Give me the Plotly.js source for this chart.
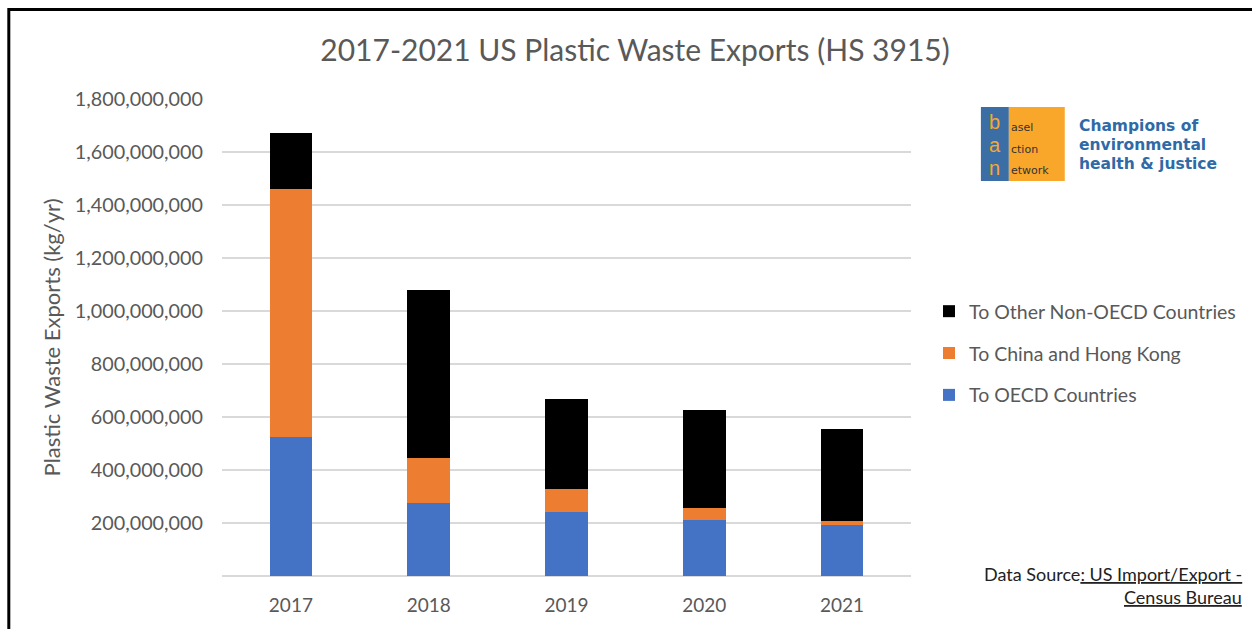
<!DOCTYPE html>
<html>
<head>
<meta charset="utf-8">
<script src="https://cdn.plot.ly/plotly-3.0.1.min.js"></script>
<style>html,body{margin:0;padding:0;background:#fff;}#chart{width:1252px;height:629px;}</style>
</head>
<body>
<div id="chart"></div>
<script>
// ---- data ----
const years = ["2017", "2018", "2019", "2020", "2021"];
const toOECD = [526e6, 274e6, 241e6, 212e6, 194e6];
const toChinaHK = [934e6, 171e6, 87e6, 44e6, 13e6];
const toOtherNonOECD = [212e6, 633e6, 340e6, 371e6, 348e6];
const seriesNames = ["To OECD Countries", "To China and Hong Kong", "To Other Non-OECD Countries"];
const yTickVals = [200e6, 400e6, 600e6, 800e6, 1000e6, 1200e6, 1400e6, 1600e6, 1800e6];

// ---- layout geometry (pixels) ----
const W = 1252, H = 629;
const L = 222, R = 912, T = 99, B = 576;
const px = x => (x - L) / (R - L);
const py = y => (B - y) / (B - T);

const FONT = "Lato, 'Open Sans', sans-serif";
const GRAY = "#595959";

const traces = [
  {type: "bar", name: seriesNames[0], x: years, y: toOECD, marker: {color: "#4472C4"}, legendgroup: "a", legendrank: 3},
  {type: "bar", name: seriesNames[1], x: years, y: toChinaHK, marker: {color: "#ED7D31"}, legendgroup: "b", legendrank: 2},
  {type: "bar", name: seriesNames[2], x: years, y: toOtherNonOECD, marker: {color: "#000000"}, legendgroup: "c", legendrank: 1}
];

const LOGO = "'Liberation Sans', Arial, sans-serif";
const WIDE = "'DejaVu Sans', Verdana, sans-serif";
const annotations = [
  // logo letters
  {text: "b", x: px(996), y: py(122), font: {family: LOGO, size: 20, color: "#F9A72B"}},
  {text: "a", x: px(996), y: py(145), font: {family: LOGO, size: 20, color: "#F9A72B"}},
  {text: "n", x: px(996), y: py(168), font: {family: LOGO, size: 20, color: "#F9A72B"}},
  {text: "asel", x: px(1010), y: py(128), xanchor: "left", font: {family: WIDE, size: 11, color: "#333333"}},
  {text: "ction", x: px(1010), y: py(149), xanchor: "left", font: {family: WIDE, size: 11, color: "#333333"}},
  {text: "etwork", x: px(1010), y: py(170), xanchor: "left", font: {family: WIDE, size: 11, color: "#333333"}},
  {text: "<b>Champions of</b>", x: px(1078), y: py(125.5), xanchor: "left", font: {family: WIDE, size: 15.5, color: "#2F6AA6"}},
  {text: "<b>environmental</b>", x: px(1078), y: py(144.5), xanchor: "left", font: {family: WIDE, size: 15.5, color: "#2F6AA6"}},
  {text: "<b>health &amp; justice</b>", x: px(1078), y: py(163.5), xanchor: "left", font: {family: WIDE, size: 15.5, color: "#2F6AA6"}},
  // data source
  {text: "Data Source<span style='text-decoration:underline'>: US Import/Export -</span>", x: px(1245), y: py(574), xanchor: "right", font: {family: FONT, size: 18, color: "#222222"}},
  {text: "<span style='text-decoration:underline'>Census Bureau</span>", x: px(1245), y: py(597), xanchor: "right", font: {family: FONT, size: 18, color: "#222222"}}
].map(a => Object.assign({xref: "paper", yref: "paper", showarrow: false, xanchor: "center", yanchor: "middle"}, a));

const shapes = [
  {type: "rect", xref: "paper", yref: "paper", x0: px(8.5), x1: px(1400), y0: py(9.5), y1: py(800), line: {color: "#000", width: 3}, fillcolor: "rgba(0,0,0,0)"},
  {type: "rect", xref: "paper", yref: "paper", x0: px(982), x1: px(1010), y0: py(107), y1: py(181), line: {width: 0}, fillcolor: "#3B6EA5", layer: "below"},
  {type: "rect", xref: "paper", yref: "paper", x0: px(1010), x1: px(1066), y0: py(107), y1: py(181), line: {width: 0}, fillcolor: "#F9A72B", layer: "below"}
];

const layout = {
  width: W, height: H,
  margin: {l: L, r: W - R, t: T, b: H - B, pad: 0},
  paper_bgcolor: "#fff", plot_bgcolor: "#fff",
  font: {family: FONT, color: GRAY},
  title: {text: "2017-2021 US Plastic Waste Exports (HS 3915)", x: 635 / W, xref: "container", xanchor: "center", y: 1 - 50 / H, yref: "container", yanchor: "middle", font: {family: FONT, size: 30, color: GRAY}},
  barmode: "stack",
  bargap: 0.69,
  xaxis: {type: "category", tickfont: {size: 19, color: GRAY}, showgrid: false, showline: false, ticks: "", ticklabelstandoff: 16, fixedrange: true},
  yaxis: {range: [0, 1800e6], tickvals: yTickVals, tickformat: ",", tickfont: {size: 19.8, color: GRAY},
          showgrid: true, gridcolor: "#D9D9D9", gridwidth: 1.5, zeroline: true, zerolinecolor: "#D9D9D9", zerolinewidth: 1.5,
          showline: false, ticks: "", ticklabelstandoff: 18,
          title: {text: "Plastic Waste Exports (kg/yr)", font: {size: 22, color: GRAY}, standoff: 8}},
  legend: {x: px(929), y: py(292), xanchor: "left", yanchor: "top", traceorder: "grouped", tracegroupgap: 13.5, font: {size: 19.5, color: GRAY}, bgcolor: "rgba(0,0,0,0)"},
  annotations: annotations,
  shapes: shapes
};

Plotly.newPlot("chart", traces, layout, {displayModeBar: false, staticPlot: true});
</script>
</body>
</html>
